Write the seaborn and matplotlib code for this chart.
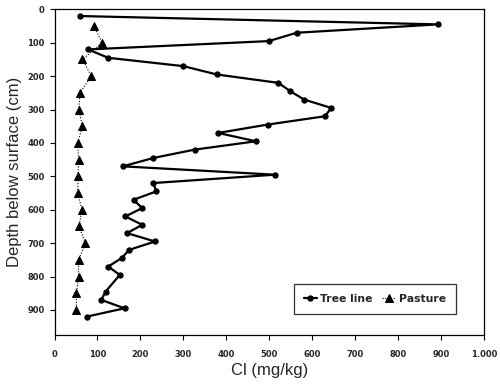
import matplotlib
matplotlib.use("Agg")
import matplotlib.pyplot as plt
import seaborn as sns
import pandas as pd

# Tree line data
tree_cl = [60, 893, 564, 499, 78, 125, 300, 378, 521, 549, 581, 644, 630, 496, 381,
           469, 326, 230, 159, 514, 230, 237, 184, 204, 165, 204, 169, 234, 174, 156,
           125, 152, 119, 109, 163, 75]
tree_depth = [20, 45, 70, 95, 120, 145, 170, 195, 220, 245, 270, 295, 320, 345, 370,
              395, 420, 445, 470, 495, 520, 545, 570, 595, 620, 645, 670, 695, 720, 745,
              770, 795, 845, 870, 895, 920]

# Pasture data
past_cl = [92, 111, 65, 86, 59, 57, 65, 54, 56, 55, 54, 64, 57, 72, 56, 56, 51, 51]
past_depth = [50, 100, 150, 200, 250, 300, 350, 400, 450, 500, 550, 600, 650, 700,
              750, 800, 850, 900]

x_ticks = [0, 100, 200, 300, 400, 500, 600, 700, 800, 900, 1000]
x_labels = ["0", "100", "200", "300", "400", "500", "600", "700", "800", "900", "1.000"]
y_ticks = [0, 100, 200, 300, 400, 500, 600, 700, 800, 900]

sns.set_theme(style="white")
plt.rcParams['font.family'] = ['Liberation Sans', 'DejaVu Sans']

fig = plt.figure(figsize=(5, 3.9), dpi=100)
ax = fig.add_axes([0.109, 0.141, 0.859, 0.835])

tree = pd.DataFrame({"cl": tree_cl, "depth": tree_depth})
past = pd.DataFrame({"cl": past_cl, "depth": past_depth})

sns.lineplot(data=tree, x="cl", y="depth", sort=False, estimator=None, ax=ax,
             color="black", lw=1.6, marker="o", markersize=3.8, markeredgecolor="black",
             label="Tree line")
sns.lineplot(data=past, x="cl", y="depth", sort=False, estimator=None, ax=ax,
             color="black", lw=0.8, linestyle=(0, (1, 1.5)), marker="^", markersize=5.2,
             markeredgecolor="black", label="Pasture")

ax.set_xlim(0, 1000)
ax.set_ylim(975, 0)
ax.set_xticks(x_ticks)
ax.set_xticklabels(x_labels, fontsize=6, fontweight="bold", family="DejaVu Sans")
ax.set_yticks(y_ticks)
ax.set_yticklabels([str(v) for v in y_ticks], fontsize=6, fontweight="bold",
                   family="DejaVu Sans")
ax.tick_params(axis="both", direction="out", length=3.5, width=0.8, color="black",
               bottom=True, left=True)
ax.tick_params(axis="x", pad=7)
ax.tick_params(axis="y", pad=3.5)

for s in ax.spines.values():
    s.set_color("black")
    s.set_linewidth(0.9)

ax.set_xlabel("Cl (mg/kg)", fontsize=12, labelpad=3)
ax.set_ylabel("Depth below surface (cm)", fontsize=12, labelpad=4)

leg = ax.legend(loc="center", bbox_to_anchor=(0.746, 0.11), ncol=2, frameon=True,
                fancybox=False, edgecolor="black",
                prop={"weight": "bold", "size": 7.8, "family": "DejaVu Sans"},
                handlelength=1.2, handletextpad=0.3, columnspacing=0.9,
                borderpad=0.9, borderaxespad=0)
leg.get_frame().set_linewidth(0.9)

fig.savefig("out.png", dpi=100)
